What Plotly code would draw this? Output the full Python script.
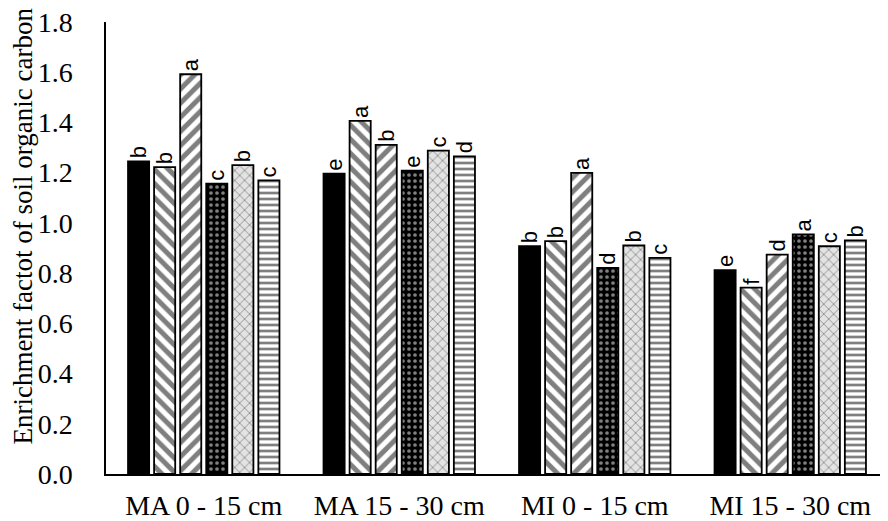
import plotly.graph_objects as go

categories = ["MA 0 - 15 cm", "MA 15 - 30 cm", "MI 0 - 15 cm", "MI 15 - 30 cm"]
series_names = ["T1", "T2", "T3", "T4", "T5", "T6"]
values = [
    [1.245, 1.196, 0.907, 0.812],
    [1.222, 1.406, 0.927, 0.742],
    [1.592, 1.311, 1.199, 0.874],
    [1.156, 1.208, 0.821, 0.954],
    [1.230, 1.288, 0.910, 0.907],
    [1.169, 1.265, 0.861, 0.930],
]
letters = [
    ["b", "e", "b", "e"],
    ["b", "a", "b", "f"],
    ["a", "b", "a", "d"],
    ["c", "e", "d", "a"],
    ["b", "c", "b", "c"],
    ["c", "d", "c", "b"],
]
y_ticks = [0.0, 0.2, 0.4, 0.6, 0.8, 1.0, 1.2, 1.4, 1.6, 1.8]

SERIF = "Liberation Serif"

styles = [
    dict(color="black", pattern=dict(shape="")),
    dict(color="white", pattern=dict(shape="\\", fgcolor="black", bgcolor="white", size=10, solidity=0.5)),
    dict(color="white", pattern=dict(shape="/", fgcolor="black", bgcolor="white", size=10, solidity=0.5)),
    dict(color="black", pattern=dict(shape=".", fgcolor="white", bgcolor="black", size=6, solidity=0.3)),
    dict(color="#e3e3e3", pattern=dict(shape="x", fgcolor="#444444", bgcolor="#e3e3e3", size=7, solidity=0.25)),
    dict(color="white", pattern=dict(shape="-", fgcolor="black", bgcolor="white", size=6, solidity=0.45)),
]

fig = go.Figure()
for name, vals, labs, st in zip(series_names, values, letters, styles):
    fig.add_trace(go.Bar(
        x=categories, y=vals, name=name,
        marker=dict(color=st["color"], pattern=st["pattern"],
                    line=dict(color="black", width=1.8)),
        text=labs, textposition="outside", textangle=-90,
        constraintext="none", cliponaxis=False,
        textfont=dict(family="Liberation Sans", size=22, color="black"),
    ))

fig.update_layout(
    width=880, height=513,
    margin=dict(l=98, r=0, t=14, b=47),
    paper_bgcolor="white", plot_bgcolor="white",
    barmode="group", bargap=0.2, bargroupgap=0.19,
    showlegend=False,
    font=dict(family=SERIF, size=28, color="black"),
)
fig.update_xaxes(
    showline=True, linecolor="black", linewidth=1.5,
    showgrid=False, ticks="", ticklabelstandoff=6, automargin=False,
    ticklabeloverflow="allow",
    tickfont=dict(family=SERIF, size=28, color="black"),
)
fig.update_yaxes(
    range=[0, 1.8], tickvals=y_ticks,
    ticktext=[f"{v:.1f}" for v in y_ticks],
    showline=True, linecolor="black", linewidth=1.5,
    showgrid=False, zeroline=False, ticks="", ticklabelstandoff=26,
    automargin=False, ticklabeloverflow="allow",
    tickfont=dict(family=SERIF, size=28, color="black"),
)
fig.add_annotation(
    text="Enrichment factot of soil organic carbon",
    xref="paper", yref="paper", x=-0.106, y=0.5476,
    xanchor="center", yanchor="middle", textangle=-90, showarrow=False,
    font=dict(family=SERIF, size=27, color="black"),
)
fig.write_html("out.html")
